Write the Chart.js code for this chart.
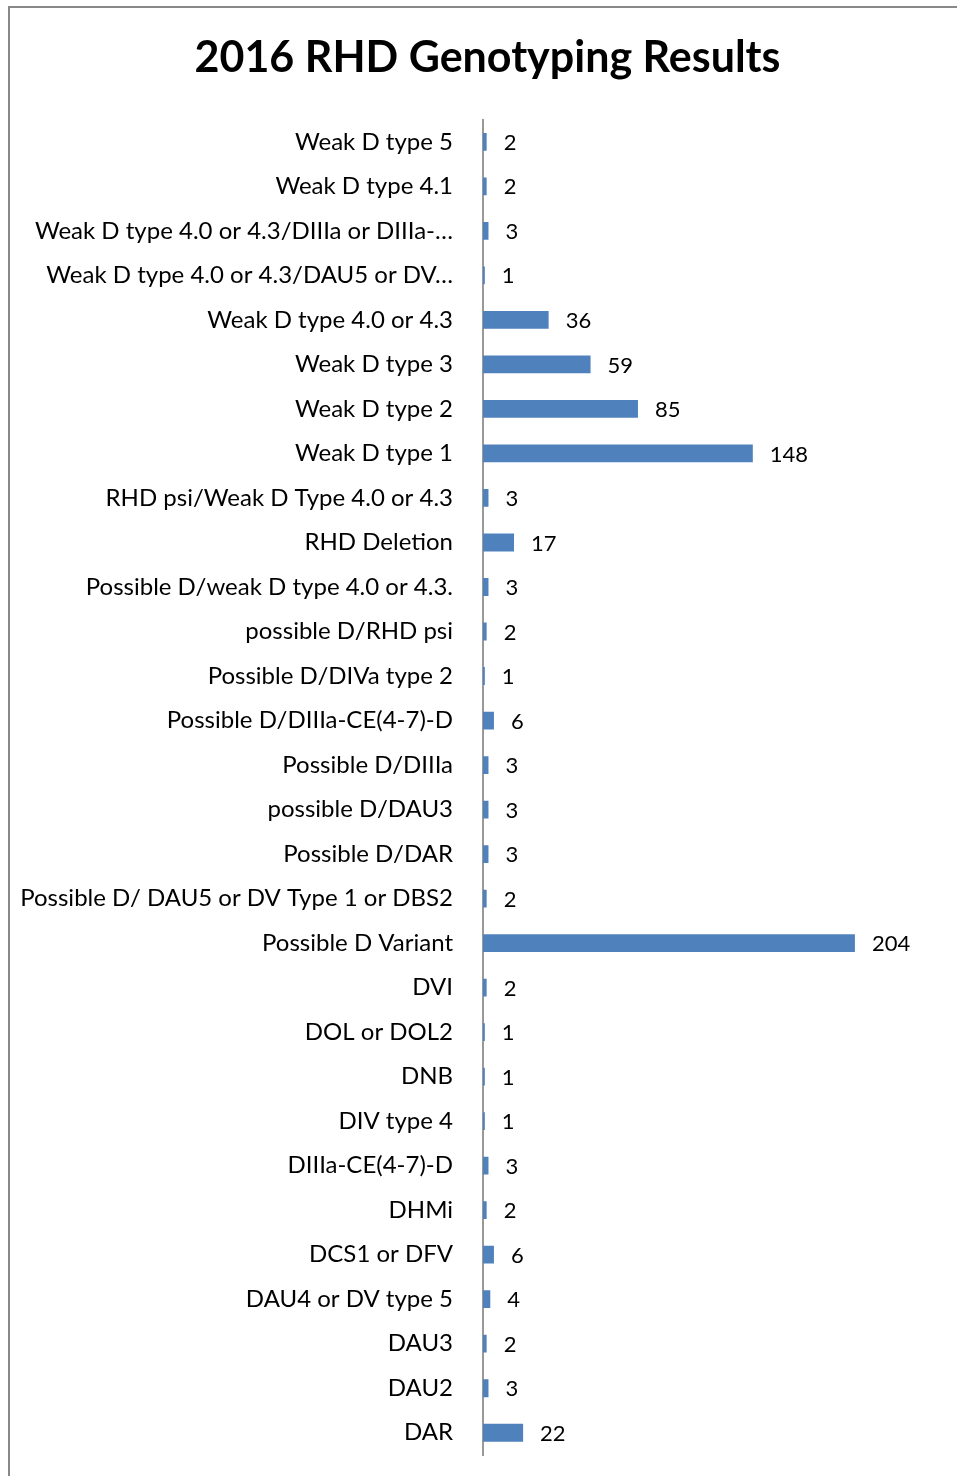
<!DOCTYPE html>
<html>
<head>
<meta charset="utf-8">
<script src="https://cdn.jsdelivr.net/npm/chart.js@4/dist/chart.umd.min.js"></script>
<style>
  html, body { margin: 0; padding: 0; background: #fff; }
  #wrap { position: relative; width: 957px; height: 1476px; }
  #frame { position: absolute; left: 8px; top: 6px; right: 0; bottom: 0; border-left: 2px solid #888; border-top: 2px solid #888; }
  canvas { position: absolute; left: 0; top: 0; }
</style>
</head>
<body>
<div id="wrap">
  <div id="frame"></div>
  <canvas id="rhdChart" width="957" height="1476"></canvas>
</div>
<script>
// categories, top to bottom as in the picture
const genotypes = [
  'Weak D type 5',
  'Weak D type 4.1',
  'Weak D type 4.0 or 4.3/DIIIa or DIIIa-…',
  'Weak D type 4.0 or 4.3/DAU5 or DV…',
  'Weak D type 4.0 or 4.3',
  'Weak D type 3',
  'Weak D type 2',
  'Weak D type 1',
  'RHD psi/Weak D Type 4.0 or 4.3',
  'RHD Deletion',
  'Possible D/weak D type 4.0 or 4.3.',
  'possible D/RHD psi',
  'Possible D/DIVa type 2',
  'Possible D/DIIIa-CE(4-7)-D',
  'Possible D/DIIIa',
  'possible D/DAU3',
  'Possible D/DAR',
  'Possible D/ DAU5 or DV Type 1 or DBS2',
  'Possible D Variant',
  'DVI',
  'DOL or DOL2',
  'DNB',
  'DIV type 4',
  'DIIIa-CE(4-7)-D',
  'DHMi',
  'DCS1 or DFV',
  'DAU4 or DV type 5',
  'DAU3',
  'DAU2',
  'DAR'
];
const counts = [2, 2, 3, 1, 36, 59, 85, 148, 3, 17, 3, 2, 1, 6, 3, 3, 3, 2, 204, 2, 1, 1, 1, 3, 2, 6, 4, 2, 3, 22];
const xMax = 260;

const font = 'Lato, "Open Sans", sans-serif';

// value labels to the right of each bar
const valueLabels = {
  id: 'valueLabels',
  afterDatasetsDraw(chart) {
    const ctx = chart.ctx;
    const meta = chart.getDatasetMeta(0);
    ctx.save();
    ctx.font = '22px ' + font;
    ctx.fillStyle = '#000';
    ctx.textAlign = 'left';
    ctx.textBaseline = 'middle';
    meta.data.forEach((bar, i) => {
      ctx.fillText(String(counts[i]), bar.x + 17, bar.y + 1);
    });
    ctx.restore();
  }
};

const ctx = document.getElementById('rhdChart').getContext('2d');
const rhdChart = new Chart(ctx, {
  type: 'bar',
  data: {
    labels: genotypes,
    datasets: [{
      data: counts,
      backgroundColor: '#4F81BD',
      borderWidth: 0,
      barPercentage: 0.4,
      categoryPercentage: 1
    }]
  },
  options: {
    indexAxis: 'y',
    responsive: false,
    animation: false,
    layout: { padding: { left: 18, right: 0, top: 0, bottom: 21 } },
    plugins: {
      legend: { display: false },
      tooltip: { enabled: false },
      title: {
        display: true,
        text: '2016 RHD Genotyping Results',
        color: '#000',
        font: { family: font, size: 43, weight: 'bold', lineHeight: 1.2 },
        padding: { top: 32, bottom: 36 }
      }
    },
    scales: {
      x: {
        display: false,
        min: 0,
        max: xMax
      },
      y: {
        grid: { display: false },
        border: { display: true, color: '#999', width: 2 },
        ticks: {
          color: '#000',
          padding: 22,
          autoSkip: false,
          font: { family: font, size: 24 }
        },
        afterFit(scale) {
          scale.width = 465;
          scale.paddingTop = 0;
          scale.paddingBottom = 0;
        }
      }
    }
  },
  plugins: [valueLabels]
});
</script>
</body>
</html>
